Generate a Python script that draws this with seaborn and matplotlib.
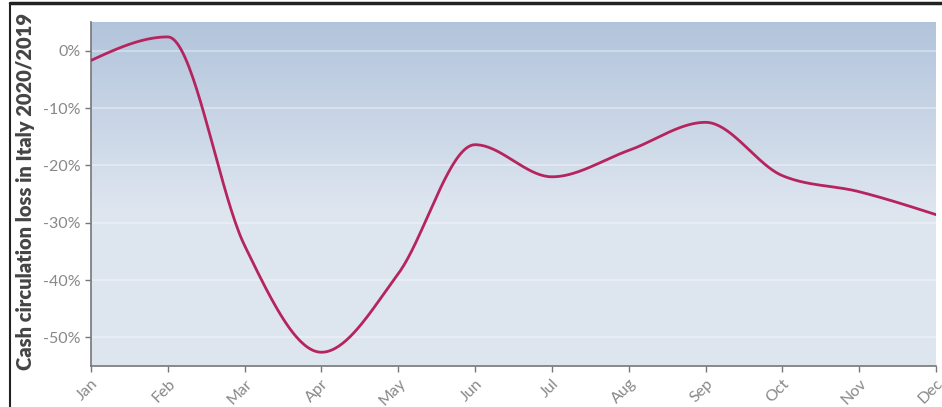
import numpy as np
import pandas as pd
import matplotlib
matplotlib.use("Agg")
import matplotlib.pyplot as plt
from matplotlib.lines import Line2D
from matplotlib.ticker import FuncFormatter
import seaborn as sns

months = ["Jan", "Feb", "Mar", "Apr", "May", "Jun", "Jul", "Aug", "Sep", "Oct", "Nov", "Dec"]
loss = [-1.7, 2.4, -34.0, -52.6, -38.9, -16.4, -22.0, -17.4, -12.5, -21.8, -24.6, -28.6]
yticks = [0, -10, -20, -30, -40, -50]
ylabel = "Cash circulation loss in Italy 2020/2019"


def monotone_x(x, y, n=40):
    # d3 curveMonotoneX style smoothing of the line between data points
    x = np.asarray(x, float)
    y = np.asarray(y, float)
    h = np.diff(x)
    s = np.diff(y) / h
    m = np.zeros_like(y)
    for i in range(1, len(y) - 1):
        if s[i - 1] * s[i] <= 0:
            m[i] = 0.0
        else:
            p = (s[i - 1] * h[i] + s[i] * h[i - 1]) / (h[i - 1] + h[i])
            m[i] = (np.sign(s[i - 1]) + np.sign(s[i])) * min(abs(s[i - 1]), abs(s[i]), 0.5 * abs(p))
    m[0] = (3 * s[0] - m[1]) / 2
    m[-1] = (3 * s[-1] - m[-2]) / 2
    xs, ys = [], []
    for i in range(len(x) - 1):
        t = np.linspace(0, 1, n, endpoint=False)
        h00 = 2 * t**3 - 3 * t**2 + 1
        h10 = t**3 - 2 * t**2 + t
        h01 = -2 * t**3 + 3 * t**2
        h11 = t**3 - t**2
        xs.append(x[i] + t * h[i])
        ys.append(h00 * y[i] + h10 * h[i] * m[i] + h01 * y[i + 1] + h11 * h[i] * m[i + 1])
    xs.append([x[-1]])
    ys.append([y[-1]])
    return np.concatenate(xs), np.concatenate(ys)


sns.set_theme(style="white")
plt.rcParams["font.family"] = ["Lato", "DejaVu Sans"]

fig = plt.figure(figsize=(9.42, 4.07), dpi=100)
ax = fig.add_axes([91 / 942, 1 - 366 / 407, (936 - 91) / 942, (366 - 22) / 407])

ymin, ymax = -55, 5
xmin, xmax = 0, len(months) - 1

# gradient background
frac = np.linspace(0, 1, 256)  # 0 at bottom, 1 at top
top = np.array([0.70, 0.77, 0.86])
bot = np.array([0.87, 0.90, 0.94])
w = np.clip((frac - 0.45) / 0.55, 0, 1)[:, None]
img = bot * (1 - w) + top * w
ax.imshow(img[:, None, :], extent=[xmin, xmax, ymin, ymax], origin="lower",
          aspect="auto", zorder=0)

for t in yticks:
    ax.axhline(t, color="white", lw=1.2, alpha=0.4, zorder=1)

xs, ys = monotone_x(np.arange(len(months)), loss)
df = pd.DataFrame({"x": xs, "y": ys})
sns.lineplot(data=df, x="x", y="y", ax=ax, color="#b5245e", lw=2.0, zorder=3, sort=False)

ax.set_xlim(xmin, xmax)
ax.set_ylim(ymin, ymax)
ax.set_xticks(range(len(months)))
ax.set_xticklabels(months, rotation=45, ha="right", rotation_mode="anchor")
ax.set_yticks(yticks)
ax.yaxis.set_major_formatter(FuncFormatter(lambda v, p: f"{int(v)}%"))
ax.tick_params(axis="both", colors="#777777", labelsize=11.5, length=4, width=1,
               direction="out", left=True, bottom=True)
ax.tick_params(axis="both", labelcolor="#888888")
ax.set_xlabel("")
ax.set_ylabel(ylabel, fontsize=14.5, fontweight="heavy", color="#444444")
ax.yaxis.set_label_coords(-0.066, 0.506)
for side in ["top", "right"]:
    ax.spines[side].set_visible(False)
for side in ["left", "bottom"]:
    ax.spines[side].set_color("#777777")
    ax.spines[side].set_linewidth(1.2)

# screenshot frame lines
fig.add_artist(Line2D([10 / 942, 1], [1 - 3 / 407, 1 - 3 / 407], color="#222222", lw=2.5,
                      transform=fig.transFigure))
fig.add_artist(Line2D([10 / 942, 10 / 942], [0, 1 - 3 / 407], color="#222222", lw=1.5,
                      transform=fig.transFigure))

fig.savefig("out.png", dpi=100)
